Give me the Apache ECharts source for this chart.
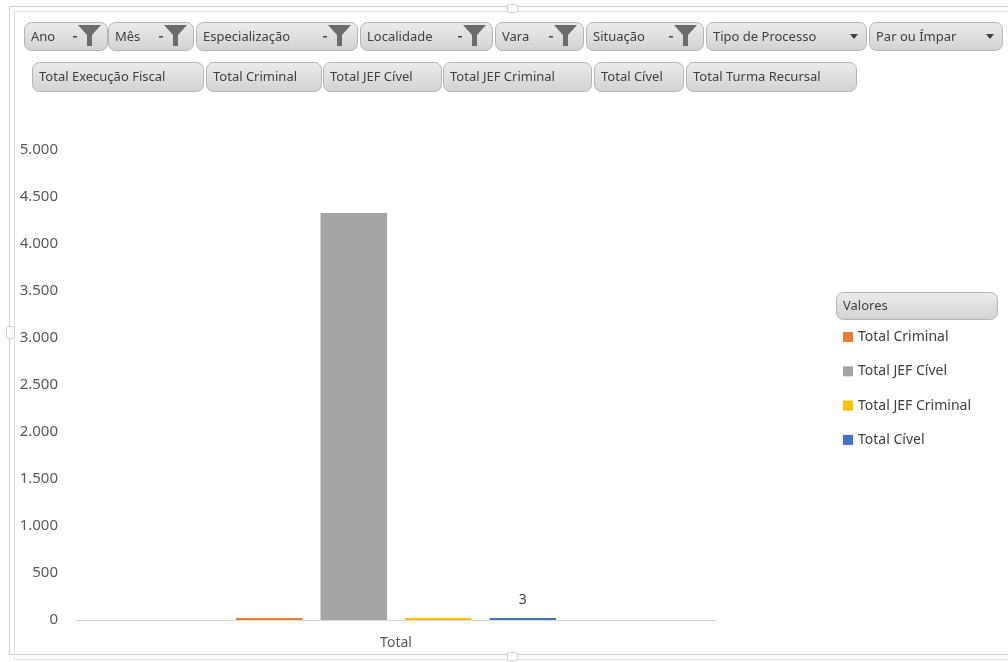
<!DOCTYPE html>
<html><head><meta charset="utf-8">
<script src="https://cdn.jsdelivr.net/npm/echarts@6/dist/echarts.min.js"></script>
<style>html,body{margin:0;padding:0;background:#fff}#c{width:1008px;height:662px}</style>
</head><body><div id="c"></div>
<script>
// ---- data ----
const categories = ['Total'];
const seriesNames = ['Total Criminal', 'Total JEF Cível', 'Total JEF Criminal', 'Total Cível'];
const totalCriminal = [2];
const totalJefCivel = [4330];
const totalJefCriminal = [2];
const totalCivel = [3];
const yMin = 0, yMax = 5000, yInterval = 500;
const filterFields = ['Ano', 'Mês', 'Especialização', 'Localidade', 'Vara', 'Situação', 'Tipo de Processo', 'Par ou Ímpar'];
const valueFields = ['Total Execução Fiscal', 'Total Criminal', 'Total JEF Cível', 'Total JEF Criminal', 'Total Cível', 'Total Turma Recursal'];
const legendTitle = 'Valores';

// ---- layout / style ----
const FONT = 'Noto Sans';
const colors = ['#ED7D31', '#A5A5A5', '#FFC000', '#4472C4'];
const filterBoxes = [[24,107,'f'],[108,193,'f'],[196,357,'f'],[360,492,'f'],[495,583,'f'],[586,703,'f'],[706,866,'a'],[869,1002,'a']];
const valueBoxes = [[32,203],[206,321],[323,441],[443,591],[594,683],[686,856]];

const graphics = [];
function button(x1, x2, y1, y2, text) {
  graphics.push({
    type: 'rect', shape: { x: x1 + 0.5, y: y1 + 0.5, width: x2 - x1, height: y2 - y1, r: 7 },
    style: { fill: { type: 'linear', x: 0, y: 0, x2: 0, y2: 1, colorStops: [{ offset: 0, color: '#ececec' }, { offset: 1, color: '#d2d2d2' }] }, stroke: '#b4b4b4', lineWidth: 1 }
  });
  graphics.push({
    type: 'text', x: x1 + 7, y: (y1 + y2) / 2 + 1,
    style: { text: text, fill: '#404040', font: '13px "' + FONT + '"', textVerticalAlign: 'middle', textAlign: 'left' }
  });
}
function funnel(x, y) { // x = left of funnel, y = top
  graphics.push({ type: 'polygon', shape: { points: [[x, y], [x + 23, y], [x + 14, y + 10], [x + 14, y + 21], [x + 9, y + 21], [x + 9, y + 10]] }, style: { fill: '#6b6b6b' } });
  graphics.push({ type: 'rect', shape: { x: x - 5, y: y + 11, width: 4, height: 1.5 }, style: { fill: '#404040' } });
}
function arrow(cx, cy) {
  graphics.push({ type: 'polygon', shape: { points: [[cx - 4, cy - 2], [cx + 4, cy - 2], [cx, cy + 3]] }, style: { fill: '#404040' } });
}
filterFields.forEach((f, i) => {
  const b = filterBoxes[i];
  button(b[0], b[1], 22, 50, f);
  if (b[2] === 'f') funnel(b[1] - 29, 25); else arrow(b[1] - 12, 36);
});
valueFields.forEach((f, i) => {
  const b = valueBoxes[i];
  button(b[0], b[1], 62, 91, f);
});
button(836, 997, 292, 319, legendTitle);

// frame
const frameStroke = '#cfcfcf';
graphics.push({ type: 'rect', shape: { x: 9.5, y: 6.5, width: 1010, height: 648 }, style: { fill: 'none', stroke: frameStroke, lineWidth: 1 } });
graphics.push({ type: 'rect', shape: { x: 14.5, y: 11.5, width: 1010, height: 648 }, style: { fill: 'none', stroke: '#e0e0e0', lineWidth: 1 } });
graphics.push({ type: 'rect', shape: { x: 6.5, y: 326.5, width: 8, height: 12, r: 2 }, style: { fill: '#fff', stroke: frameStroke } });
graphics.push({ type: 'rect', shape: { x: 507.5, y: 4.5, width: 10, height: 8, r: 2 }, style: { fill: '#fff', stroke: frameStroke } });
graphics.push({ type: 'rect', shape: { x: 507.5, y: 652.5, width: 10, height: 8, r: 2 }, style: { fill: '#fff', stroke: frameStroke } });

const fmt = v => String(v).replace(/\B(?=(\d{3})+(?!\d))/g, '.');
const dataArrays = [totalCriminal, totalJefCivel, totalJefCriminal, totalCivel];

const chart = echarts.init(document.getElementById('c'));
chart.setOption({
  animation: false,
  textStyle: { fontFamily: FONT },
  grid: { left: 76, right: 292, top: 150, bottom: 42, containLabel: false },
  legend: {
    orient: 'vertical', left: 838, top: 325, itemWidth: 10, itemHeight: 10, itemGap: 20.3,
    icon: 'rect', data: seriesNames,
    textStyle: { color: '#404040', fontSize: 14, fontFamily: FONT, padding: [0, 0, 0, 0] }
  },
  xAxis: {
    type: 'category', data: categories,
    axisLine: { lineStyle: { color: '#d9d9d9' } }, axisTick: { show: false },
    axisLabel: { color: '#595959', fontSize: 14, margin: 16 }
  },
  yAxis: {
    type: 'value', min: yMin, max: yMax, interval: yInterval,
    splitLine: { show: false }, axisLine: { show: false }, axisTick: { show: false },
    axisLabel: { color: '#595959', fontSize: 15, margin: 18, formatter: fmt }
  },
  series: seriesNames.map((n, i) => ({
    name: n, type: 'bar', data: dataArrays[i], barGap: '27%', barCategoryGap: '50%', barMinHeight: 2,
    itemStyle: { color: colors[i] },
    label: { show: i === 3, position: 'top', distance: 11, color: '#404040', fontSize: 14 }
  })),
  graphic: graphics
});
</script></body></html>
